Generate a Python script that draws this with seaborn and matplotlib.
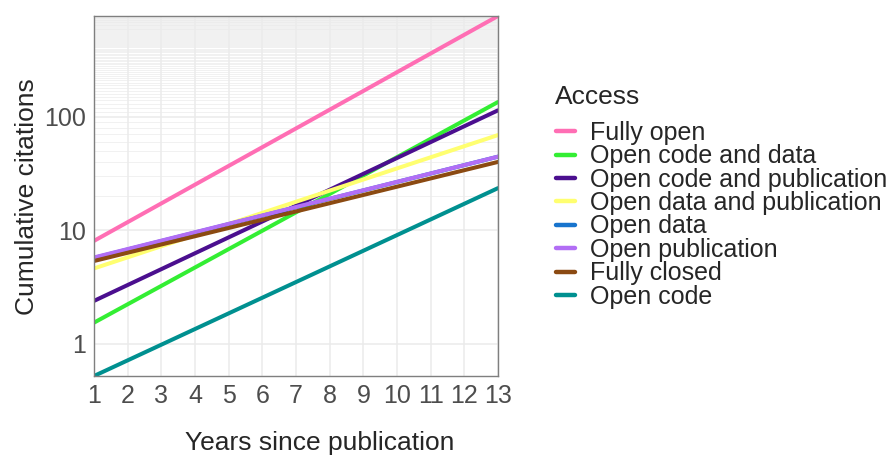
import numpy as np
import pandas as pd
import seaborn as sns
import matplotlib.pyplot as plt
from matplotlib.ticker import FixedLocator, NullFormatter

access = ["Fully open", "Open code and data", "Open code and publication",
          "Open data and publication", "Open data", "Open publication",
          "Fully closed", "Open code"]
colors = ["#FF6EB4", "#33EE33", "#4B0F8F", "#FFFF70",
          "#1874CD", "#B26EF5", "#8B4A12", "#009090"]
years = [1, 13]
# fitted cumulative citations at year 1 and year 13
cit_start = [8.05, 1.53, 2.38, 4.6, 5.7, 5.75, 5.35, 0.518]
cit_end = [774, 135, 114, 69, 44.5, 44.5, 40, 23.5]

rows = []
for a, s, e in zip(access, cit_start, cit_end):
    rows.append((a, years[0], s))
    rows.append((a, years[1], e))
df = pd.DataFrame(rows, columns=["access", "year", "citations"])

sns.set_style('white')
plt.rcParams['font.family'] = ['Liberation Sans', 'DejaVu Sans']

fig = plt.figure(figsize=(8.93, 4.57), dpi=100)
ax = fig.add_axes([94 / 893, 1 - 376 / 457, 404 / 893, 360 / 457])

sns.lineplot(data=df, x="year", y="citations", hue="access", hue_order=access,
             palette=dict(zip(access, colors)), linewidth=2.9, ax=ax)

ax.set_yscale('log')
ax.set_xlim(1, 13)
ax.set_ylim(min(cit_start), max(cit_end))
ax.set_xticks(range(1, 14))
ax.set_yticks([1, 10, 100], labels=["1", "10", "100"])
ax.yaxis.set_minor_locator(FixedLocator(np.arange(10, 780, 10)))
ax.yaxis.set_minor_formatter(NullFormatter())
ax.tick_params(which='minor', length=0)
ax.tick_params(which='major', length=4, color='#7F7F7F', labelsize=18,
               labelcolor='#4D4D4D', pad=2)

ax.grid(which='major', color='#EBEBEB', lw=1.1)
ax.grid(which='minor', axis='y', color='#EBEBEB', lw=0.5)
ax.set_axisbelow(True)
for sp in ax.spines.values():
    sp.set_color('#7F7F7F')
    sp.set_linewidth(1)

ax.set_xlabel("Years since publication", fontsize=19)
ax.set_ylabel("Cumulative citations", fontsize=19)
ax.xaxis.label.set_va('center')
ax.xaxis.set_label_coords(0.559, -0.187)
ax.yaxis.label.set_va('center')
ax.yaxis.set_label_coords(-0.165, 0.497)

handles, labels = ax.get_legend_handles_labels()
ax.get_legend().remove()
for h in handles:
    h.set_linewidth(3.2)
leg = ax.legend(handles, labels, loc='upper left',
                bbox_to_anchor=(556 / 893, 1 - 121 / 457), bbox_transform=fig.transFigure,
                frameon=False, fontsize=18, handlelength=0.75,
                handletextpad=0.6, labelspacing=-0.025, borderaxespad=0,
                borderpad=0)
fig.text(555 / 893, 1 - 97 / 457, "Access", fontsize=19, ha='left', va='center')

fig.savefig("out.png", dpi=100)
